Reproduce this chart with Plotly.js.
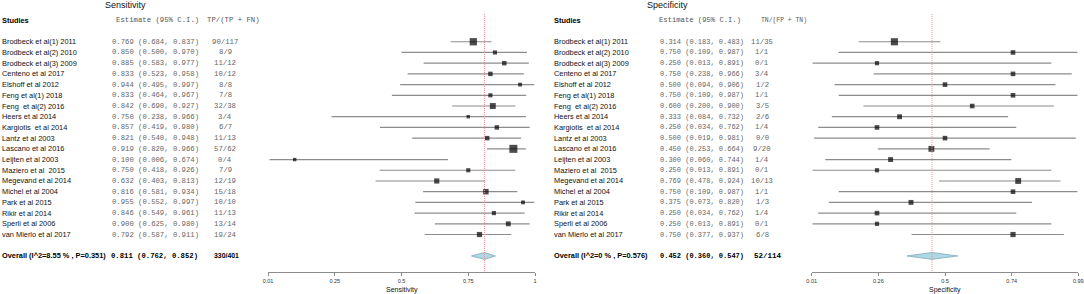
<!DOCTYPE html>
<html>
<head>
<meta charset="utf-8">
<script src="https://cdn.plot.ly/plotly-3.0.1.min.js"></script>
<style>html,body{margin:0;padding:0;background:#fff;}#chart{width:1084px;height:294px;}</style>
</head>
<body>
<div id="chart"></div>
<script>
const studies = ["Brodbeck et al(1) 2011","Brodbeck et al(2) 2010","Brodbeck et al(3) 2009","Centeno et al 2017","Elshoff et al 2012","Feng et al(1) 2018","Feng\u00a0 et al(2) 2016","Heers et al 2014","Kargiotis\u00a0 et al 2014","Lantz et al 2003","Lascano et al 2016","Leijten et al 2003","Maziero et al\u00a0 2015","Megevand et al 2014","Michel et al 2004","Park et al 2015","Rikir et al 2014","Sperli et al 2006","van Mierlo et al 2017"];

const sensEst = [0.769,0.850,0.885,0.833,0.944,0.833,0.842,0.750,0.857,0.821,0.919,0.100,0.750,0.632,0.816,0.955,0.846,0.900,0.792];
const sensLo  = [0.684,0.500,0.583,0.523,0.495,0.464,0.690,0.238,0.419,0.540,0.820,0.006,0.418,0.403,0.581,0.552,0.549,0.625,0.587];
const sensHi  = [0.837,0.970,0.977,0.958,0.997,0.967,0.927,0.966,0.980,0.948,0.966,0.674,0.926,0.813,0.934,0.997,0.961,0.980,0.911];
const tp      = [90,8,11,10,8,7,32,3,6,11,57,0,7,12,15,10,11,13,19];
const posTot  = [117,9,12,12,8,8,38,4,7,13,62,4,9,19,18,10,13,14,24];
const sensWeight = [11.4,3.7,4.3,4.3,3.2,3.7,7.6,2.5,4.3,4.3,13.9,2.5,3.7,5.8,6.6,3.2,3.7,5.2,5.8];

const specEst = [0.314,0.750,0.250,0.750,0.500,0.750,0.600,0.333,0.250,0.500,0.450,0.300,0.250,0.769,0.750,0.375,0.250,0.250,0.750];
const specLo  = [0.183,0.109,0.013,0.238,0.094,0.109,0.200,0.084,0.034,0.019,0.253,0.060,0.013,0.478,0.109,0.073,0.034,0.013,0.377];
const specHi  = [0.483,0.987,0.891,0.966,0.906,0.987,0.900,0.732,0.762,0.981,0.664,0.744,0.891,0.924,0.987,0.820,0.762,0.891,0.937];
const tn      = [11,1,0,3,1,1,3,2,1,0,9,1,0,10,1,1,1,0,6];
const negTot  = [35,1,1,4,2,1,5,6,4,0,20,4,1,13,1,3,4,1,8];
const specWeight = [11.0,4.6,3.8,4.6,4.6,4.6,4.6,5.2,4.6,4.6,7.5,5.2,3.8,7.5,4.6,5.2,4.6,3.8,5.8];

const sensOverall = {label:"Overall (I^2=8.55 % , P=0.351)", est:0.811, lo:0.762, hi:0.852, n:330, tot:401};
const specOverall = {label:"Overall (I^2=0 % , P=0.576)", est:0.452, lo:0.360, hi:0.547, n:52, tot:114};

const sensTicks = [0, 0.25, 0.5, 0.75, 1];
const sensTickText = ["0.01","0.25","0.5","0.75","1"];
const specTicks = [0.01, 0.255, 0.5, 0.745, 0.99];
const specTickText = ["0.01","0.26","0.5","0.74","0.99"];

// ---- layout helpers ----
const W = 1084;
const rows = studies.map((_, i) => i + 1);
const overallRow = studies.length + 2;
const px = v => v / W;
const SANS = "Liberation Sans, Arial, sans-serif";
const MONO = "Liberation Mono, Courier New, monospace";
const fmt = v => v.toFixed(3);

function panelTraces(est, lo, hi, weight, ov, xa) {
  const lx = [], ly = [];
  est.forEach((_, i) => { lx.push(lo[i], hi[i], null); ly.push(rows[i], rows[i], null); });
  const ci = {x: lx, y: ly, xaxis: xa, yaxis: 'y', mode: 'lines', type: 'scatter',
    line: {color: '#8c8c8c', width: 1.2}, hoverinfo: 'skip', showlegend: false};
  const pts = {x: est, y: rows, xaxis: xa, yaxis: 'y', mode: 'markers', type: 'scatter',
    marker: {symbol: 'square', color: '#000', size: weight.map(w => 2.15 * Math.sqrt(w)), line: {width: 0}},
    cliponaxis: false, showlegend: false};
  const h = 0.32;
  const dia = {x: [ov.lo, ov.est, ov.hi, ov.est, ov.lo], y: [overallRow, overallRow - h, overallRow, overallRow + h, overallRow],
    xaxis: xa, yaxis: 'y', mode: 'lines', fill: 'toself', fillcolor: '#add8e6', type: 'scatter',
    line: {color: '#7fa9b8', width: 0.8}, showlegend: false};
  return [ci, pts, dia];
}

function panelAnns(cfg, est, lo, hi, num, den, ov) {
  const a = [];
  const base = {showarrow: false, yref: 'y', xref: 'paper', yanchor: 'middle', borderpad: 0};
  a.push({...base, x: px(cfg.title), y: -2.45, xanchor: 'center', text: cfg.titleText, font: {family: SANS, size: 9, color: '#111'}});
  a.push({...base, x: px(cfg.nameX), y: -1, xanchor: 'left', text: '<b>Studies</b>', font: {family: SANS, size: 7.4, color: '#000'}});
  a.push({...base, x: px(cfg.hdrEstX), y: -1, xanchor: 'left', text: 'Estimate (95% C.I.)', font: {family: MONO, size: cfg.hdrEstSize, color: '#555'}});
  a.push({...base, x: px(cfg.hdrCntX), y: -1, xanchor: 'left', text: cfg.cntHdr, font: {family: MONO, size: cfg.hdrCntSize, color: '#555'}});
  studies.forEach((s, i) => {
    a.push({...base, x: px(cfg.nameX), y: rows[i], xanchor: 'left', text: s, font: {family: SANS, size: 7.4, color: '#111'}});
    a.push({...base, x: px(cfg.estX), y: rows[i], xanchor: 'left', text: fmt(est[i]) + ' (' + fmt(lo[i]) + ', ' + fmt(hi[i]) + ')', font: {family: MONO, size: cfg.estSize, color: '#666'}});
    a.push({...base, x: px(cfg.cntX), y: rows[i], xanchor: 'center', text: num[i] + '/' + den[i], font: {family: MONO, size: 7.3, color: '#666'}});
  });
  a.push({...base, x: px(cfg.nameX), y: overallRow, xanchor: 'left', text: '<b>' + ov.label + '</b>', font: {family: SANS, size: 7.4, color: '#000'}});
  a.push({...base, x: px(cfg.ovEstX), y: overallRow, xanchor: 'left', text: '<b>' + fmt(ov.est) + ' (' + fmt(ov.lo) + ', ' + fmt(ov.hi) + ')</b>', font: {family: MONO, size: cfg.estSize, color: '#000'}});
  a.push({...base, x: px(cfg.ovCntX), y: overallRow, xanchor: 'center', text: '<b>' + ov.n + '/' + ov.tot + '</b>', font: cfg.ovCntFont});
  a.push({showarrow: false, xref: 'paper', yref: 'paper', x: px(cfg.xlabX), y: -0.066, xanchor: 'center', yanchor: 'middle',
    text: cfg.titleText, font: {family: SANS, size: 7, color: '#111'}});
  return a;
}

const sensCfg = {title: 125, titleText: 'Sensitivity', nameX: 0.7, hdrEstX: 115, hdrEstSize: 7.3, hdrCntX: 206.3, hdrCntSize: 7.3, cntHdr: 'TP/(TP + FN)',
  estX: 111, estSize: 7.25, cntX: 225, ovEstX: 110, ovCntX: 226, ovCntFont: {family: SANS, size: 6.9, color: '#000'}, xlabX: 401.5};
const specCfg = {title: 667.5, titleText: 'Specificity', nameX: 553, hdrEstX: 658, hdrEstSize: 7.2, hdrCntX: 760, hdrCntSize: 6.4, cntHdr: 'TN/(FP + TN)',
  estX: 659, estSize: 7.0, cntX: 762, ovEstX: 659, ovCntX: 768, ovCntFont: {family: MONO, size: 7.5, color: '#000'}, xlabX: 945};

const data = [
  ...panelTraces(sensEst, sensLo, sensHi, sensWeight, sensOverall, 'x'),
  ...panelTraces(specEst, specLo, specHi, specWeight, specOverall, 'x2')
];

const annotations = [
  ...panelAnns(sensCfg, sensEst, sensLo, sensHi, tp, posTot, sensOverall),
  ...panelAnns(specCfg, specEst, specLo, specHi, tn, negTot, specOverall)
];

const axisCommon = {showgrid: false, zeroline: false, showline: true, linecolor: '#8c8c8c', linewidth: 1,
  ticks: 'outside', ticklen: 3, tickwidth: 1, tickcolor: '#8c8c8c', anchor: 'y', fixedrange: true,
  tickfont: {family: SANS, size: 5.5, color: '#333'}};

const refLine = {color: '#f28a8a', width: 1, dash: '1px,1px'};

const layout = {
  width: 1084, height: 294,
  margin: {l: 0, r: 0, t: 0, b: 22, pad: 0},
  paper_bgcolor: '#fff', plot_bgcolor: '#fff',
  showlegend: false,
  xaxis: {...axisCommon, domain: [268 / W, 535 / W], range: [0, 1], tickvals: sensTicks, ticktext: sensTickText},
  xaxis2: {...axisCommon, domain: [811.7 / W, 1078.3 / W], range: [0.01, 0.99], tickvals: specTicks, ticktext: specTickText},
  yaxis: {range: [overallRow + 1.5, -2.9], showgrid: false, zeroline: false, showline: false, showticklabels: false, ticks: '', fixedrange: true, domain: [0, 1]},
  shapes: [
    {type: 'line', xref: 'x', yref: 'y', x0: sensOverall.est, x1: sensOverall.est, y0: -1.6, y1: overallRow + 1.5, line: refLine, layer: 'above'},
    {type: 'line', xref: 'x2', yref: 'y', x0: specOverall.est, x1: specOverall.est, y0: -1.6, y1: overallRow + 1.5, line: refLine, layer: 'above'}
  ],
  annotations: annotations
};

Plotly.newPlot('chart', data, layout, {staticPlot: true, displayModeBar: false});
</script>
</body>
</html>
